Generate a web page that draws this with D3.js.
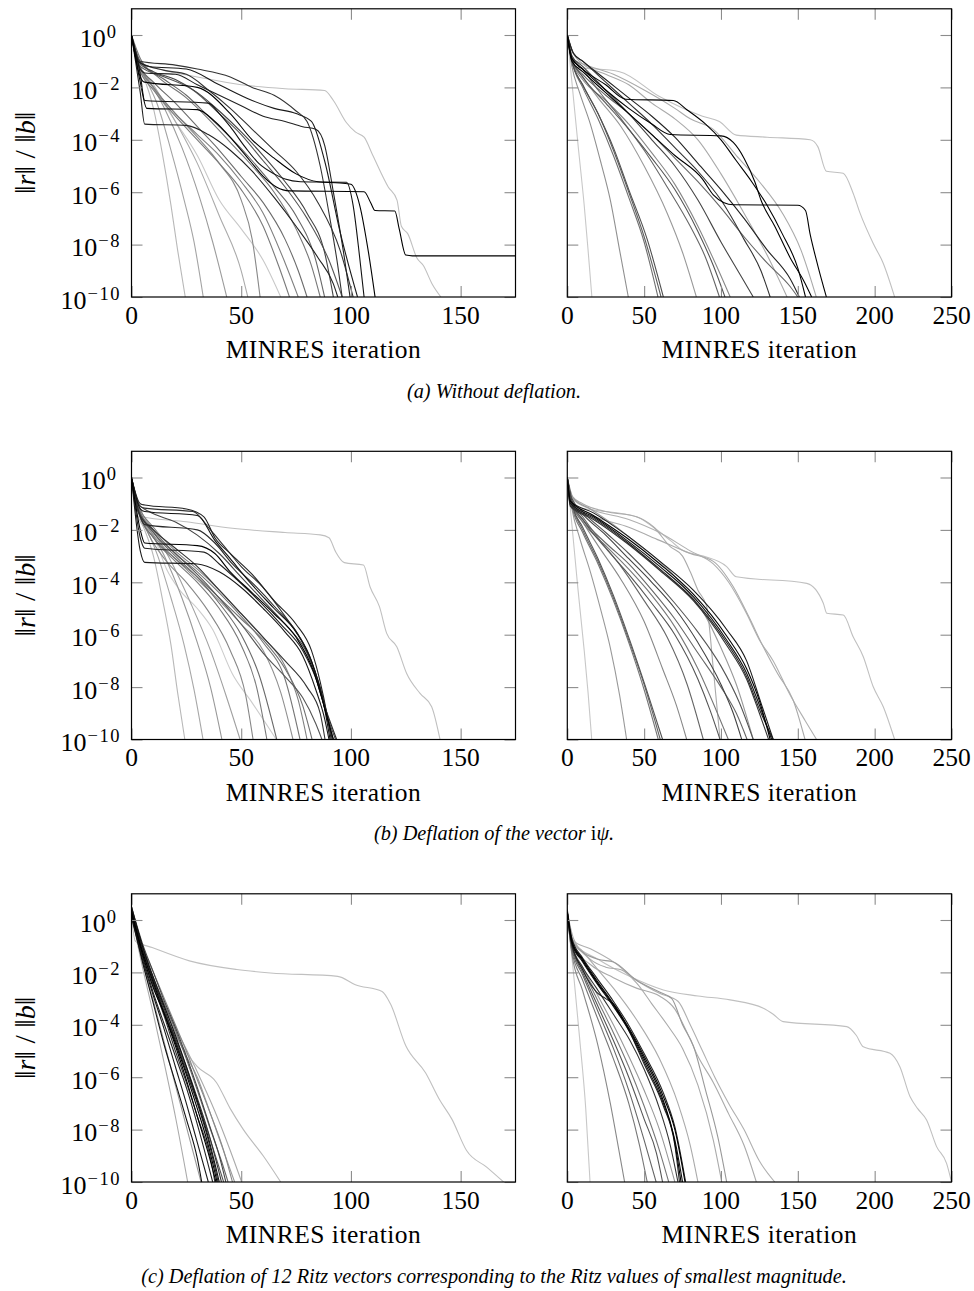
<!DOCTYPE html>
<html><head><meta charset="utf-8">
<script src="https://cdn.jsdelivr.net/npm/d3@7"></script>
<style>
body{margin:0;background:#fff;}
</style></head><body>
<svg id="chart" width="974" height="1291"></svg>
<script>
// ---------- axis / tick data ----------
const xTicksLeft = [0, 50, 100, 150];
const xTicksRight = [0, 50, 100, 150, 200, 250];
const xDomainLeft = [0, 175];
const xDomainRight = [0, 250];
const yTickExponents = [0, -2, -4, -6, -8, -10];
const yDomain = [1e-10, 10];
const xAxisTitle = "MINRES iteration";
const captions = [
  "(a) Without deflation.",
  "(b) Deflation of the vector ",
  "(c) Deflation of 12 Ritz vectors corresponding to the Ritz values of smallest magnitude."
];

// ---------- series: [iteration, log10(||r||/||b||)] ----------
const aLeftSeries = [
  [[0,0],[2,-1.0],[6,-1.7],[10,-2.8],[14,-4.5],[18,-6.5],[21,-8.2],[24.5,-10]],
  [[0,0],[2,-0.9],[6,-1.6],[12,-2.7],[18,-4.4],[24,-6.3],[28.5,-7.9],[32.7,-10]],
  [[0,0],[2,-0.9],[7,-1.6],[15,-2.8],[23,-4.3],[31,-6.2],[37,-7.9],[43.4,-10]],
  [[0,0],[3,-1.0],[10,-1.9],[20,-3.3],[30,-4.9],[40,-6.9],[50,-9.0],[53,-10]],
  [[0,0],[3,-1.0],[10,-2.0],[20,-3.3],[30,-4.6],[40,-6.3],[50,-7.4],[60,-8.6],[68,-10]],
  [[0,0],[3,-1.1],[10,-2.0],[20,-3.0],[30,-3.9],[40,-4.9],[50,-6.3],[55,-7.8],[58.6,-10]],
  [[0,0],[3,-1.2],[10,-2.1],[20,-3.1],[30,-4.0],[40,-4.9],[50,-5.9],[60,-7.3],[67,-8.8],[72,-10]],
  [[0,0],[3,-1.0],[10,-2.0],[20,-3.0],[30,-3.8],[40,-4.6],[50,-5.6],[60,-6.8],[70,-8.7],[76,-10]],
  [[0,0],[3,-1.1],[10,-1.8],[20,-2.6],[30,-3.5],[40,-4.4],[50,-5.4],[60,-6.4],[70,-7.8],[76,-9],[80,-10]],
  [[0,0],[4,-0.9],[12,-1.6],[25,-2.4],[35,-3.2],[45,-4.1],[55,-5.0],[65,-6.0],[75,-7.4],[82,-8.8],[86,-10]],
  [[0,0],[4,-1.0],[15,-1.7],[25,-2.3],[35,-3.1],[45,-3.9],[55,-4.8],[65,-5.8],[75,-6.9],[84,-8.6],[88,-10]],
  [[0,0],[4,-1.0],[20,-1.15],[30,-1.3],[45,-1.6],[55,-2.0],[65,-2.3],[75,-2.9],[80,-3.3],[86,-5.0],[90,-6.8],[94,-8.8],[96,-10]],
  [[0,0],[4,-1.3],[6,-1.45],[20,-1.5],[30,-1.9],[40,-2.3],[50,-2.7],[60,-3.1],[70,-3.3],[78,-3.5],[84,-3.6],[88,-4.2],[92,-6.0],[97,-8.5],[99.6,-10]],
  [[0,0],[4,-1.5],[6,-2.5],[35,-2.6],[40,-3.0],[45,-3.5],[52,-4.3],[58,-4.9],[65,-5.3],[70,-5.5],[77,-5.6],[98,-5.62],[101,-6.5],[104,-8.5],[106,-10]],
  [[0,0],[4,-1.8],[7,-2.8],[30,-2.85],[38,-3.3],[46,-4.0],[54,-4.8],[60,-5.4],[66,-5.8],[72,-5.95],[106,-5.98],[109,-6.4],[111,-6.7],[120,-6.72],[122,-7.4],[125,-8.4],[128,-8.43],[175,-8.43]],
  [[0,0],[4,-2.2],[6,-3.4],[25,-3.45],[35,-3.8],[45,-4.4],[55,-5.2],[65,-6.2],[75,-7.3],[85,-8.5],[92,-9.5],[94,-10]],
  [[0,0],[4,-1.1],[10,-1.4],[20,-1.7],[30,-2.2],[40,-2.9],[50,-3.7],[60,-4.6],[70,-5.6],[80,-6.8],[88,-8.3],[92,-10]],
  [[0,0],[3,-1.0],[15,-1.35],[25,-1.5],[35,-2.1],[45,-2.8],[55,-3.6],[65,-4.4],[75,-5.2],[85,-6.4],[95,-8.2],[101,-10]],
  [[0,0],[4,-1.2],[15,-1.6],[28,-2.1],[40,-3.0],[50,-3.8],[60,-4.8],[70,-5.8],[80,-7.0],[90,-8.6],[96,-10]],
  [[0,0],[3,-1.0],[8,-1.2],[25,-1.3],[40,-1.9],[55,-2.5],[65,-2.8],[75,-3.0],[82,-3.3],[88,-4.8],[95,-7.5],[103,-10]],
  [[0,0],[4,-1.6],[6,-1.8],[30,-2.0],[45,-3.0],[55,-4.0],[65,-4.7],[75,-5.3],[85,-5.6],[95,-5.65],[100,-5.7],[104,-6.5],[108,-8.3],[111,-10]],
  [[0,0],[2,-0.8],[5,-1.1],[15,-1.35],[30,-1.6],[50,-1.9],[70,-2.05],[88,-2.12],[92,-2.5],[98,-3.35],[102,-3.7],[106,-3.9],[110,-4.6],[117,-5.8],[121,-6.3],[123,-7.3],[126,-7.6],[130,-8.5],[133,-8.8],[137,-9.5],[141,-10]]
];
const aLeftShade = ["#b8b8b8","#a4a4a4","#9c9c9c","#ababab","#c8c8c8","#888888","#7a7a7a","#808080","#6c6c6c","#777777","#666666",
  "#333333","#222222","#111111","#000000","#222222","#444444","#333333","#555555","#1a1a1a","#000000","#c0c0c0"];

const aRightSeries = [
  [[0,0],[3,-1.8],[7,-4.2],[11,-6.5],[13.5,-8.2],[16,-10]],
  [[0,0],[3,-1.2],[8,-2.2],[15,-3.4],[22,-4.9],[28,-6.3],[34,-8.2],[39.7,-10]],
  [[0,0],[3,-1.0],[10,-2.0],[20,-3.2],[30,-4.6],[40,-6.2],[50,-7.9],[59,-10]],
  [[0,0],[3,-1.0],[10,-1.9],[20,-3.0],[30,-4.4],[40,-6.0],[50,-7.7],[61,-10]],
  [[0,0],[3,-1.0],[10,-1.9],[20,-3.0],[30,-4.3],[40,-5.9],[52,-7.8],[62.5,-10]],
  [[0,0],[3,-1.0],[10,-1.6],[20,-2.4],[35,-3.5],[50,-5.0],[65,-6.8],[75,-8.3],[84,-10]],
  [[0,0],[3,-0.8],[10,-1.3],[20,-2.1],[35,-3.2],[50,-4.4],[65,-5.8],[80,-7.3],[90,-8.5],[99,-10]],
  [[0,0],[3,-0.9],[10,-1.6],[25,-2.6],[40,-3.6],[55,-4.7],[70,-5.9],[85,-7.5],[95,-8.8],[102.6,-10]],
  [[0,0],[3,-1.0],[10,-1.7],[25,-2.5],[40,-3.4],[55,-4.5],[70,-5.7],[85,-7.3],[97,-8.8],[106,-10]],
  [[0,0],[3,-0.8],[10,-1.2],[25,-2.1],[40,-3.0],[55,-4.0],[70,-5.0],[85,-6.3],[100,-7.9],[113,-9.2],[121,-10]],
  [[0,0],[4,-0.7],[10,-1.0],[25,-1.8],[40,-2.6],[55,-3.4],[70,-4.3],[85,-5.2],[100,-6.3],[115,-7.8],[126,-9.0],[132,-10]],
  [[0,0],[3,-0.6],[10,-1.1],[25,-1.5],[40,-1.9],[55,-2.6],[70,-3.2],[85,-4.0],[100,-5.3],[115,-6.8],[130,-8.4],[143,-10]],
  [[0,0],[4,-0.7],[10,-1.0],[25,-1.7],[40,-2.4],[55,-3.1],[70,-3.9],[85,-4.9],[100,-5.9],[115,-7.0],[130,-8.2],[145,-9.3],[151,-10]],
  [[0,0],[3,-0.9],[10,-1.3],[25,-1.9],[38,-2.45],[69,-2.5],[78,-2.86],[90,-3.4],[100,-4.0],[110,-4.8],[120,-5.6],[130,-6.5],[140,-7.6],[150,-8.9],[155,-10]],
  [[0,0],[3,-0.9],[10,-1.3],[25,-2.1],[40,-2.8],[55,-3.4],[67,-3.8],[100,-3.85],[108,-4.1],[115,-4.7],[122,-5.6],[126,-6.3],[135,-7.3],[145,-8.5],[154,-9.4],[159,-10]],
  [[0,0],[3,-1.0],[10,-1.4],[25,-2.2],[40,-3.0],[55,-3.8],[70,-4.6],[88,-5.5],[95,-6.1],[102,-6.4],[108,-6.48],[150,-6.5],[155,-6.7],[158,-7.6],[163,-8.8],[168.6,-10]],
  [[0,0],[3,-1.0],[10,-1.5],[25,-2.3],[40,-3.0],[55,-3.8],[70,-4.7],[85,-5.6],[100,-6.6],[115,-7.7],[130,-8.7],[145,-9.6],[150,-10]],
  [[0,0],[3,-0.9],[10,-1.1],[30,-1.5],[50,-2.1],[70,-2.8],[80,-3.2],[95,-3.6],[110,-4.6],[125,-5.6],[140,-6.8],[152,-8.2],[162,-10]],
  [[0,0],[2,-0.8],[4,-1.2],[34,-1.4],[60,-2.35],[88,-3.1],[99,-3.3],[110,-3.82],[130,-3.9],[158,-4.0],[163,-4.26],[168.6,-5.2],[179.5,-5.28],[186,-6.04],[190.5,-6.8],[199,-7.95],[205.5,-8.7],[213,-10]]
];
const aRightShade = ["#c8c8c8","#909090","#707070","#606060","#505050","#999999","#666666","#555555","#888888","#444444","#333333","#aaaaaa","#222222",
  "#000000","#000000","#000000","#666666","#aaaaaa","#c0c0c0"];

const bLeftSeries = [
  [[0,0],[2,-1.2],[6,-2.0],[10,-3.0],[14,-4.6],[18,-6.4],[21,-8.2],[24.3,-10]],
  [[0,0],[2,-1.0],[6,-1.8],[12,-3.0],[18,-4.6],[24,-6.4],[28.5,-8.1],[32.6,-10]],
  [[0,0],[2,-1.0],[7,-1.8],[15,-3.0],[23,-4.6],[30,-6.3],[36,-8.0],[41.2,-10]],
  [[0,0],[3,-1.0],[9,-1.9],[18,-3.2],[27,-4.8],[36,-6.6],[43,-8.3],[49.5,-10]],
  [[0,0],[3,-1.1],[10,-2.2],[16,-3.5],[22,-4.3],[30,-5.0],[37,-5.8],[46,-7.5],[55,-8.6],[66,-10]],
  [[0,0],[3,-1.2],[8,-2.2],[15,-3.1],[25,-4.0],[35,-5.1],[45,-6.6],[52,-8.3],[55.4,-10]],
  [[0,0],[3,-1.2],[10,-2.3],[20,-3.2],[30,-4.0],[40,-5.0],[50,-6.4],[57,-8.0],[61.7,-10]],
  [[0,0],[3,-1.1],[10,-2.1],[20,-3.0],[30,-3.8],[40,-4.8],[50,-6.0],[58,-7.5],[66.2,-10]],
  [[0,0],[3,-1.2],[10,-2.2],[20,-3.1],[30,-3.9],[40,-4.7],[50,-5.6],[60,-6.6],[68,-8.2],[73.6,-10]],
  [[0,0],[3,-1.1],[10,-2.0],[20,-2.9],[30,-3.6],[40,-4.4],[50,-5.3],[60,-6.3],[70,-7.7],[76.8,-10]],
  [[0,0],[3,-1.0],[10,-1.9],[20,-2.8],[30,-3.5],[40,-4.3],[50,-5.2],[60,-6.1],[70,-7.2],[76,-8.5],[80,-10]],
  [[0,0],[3,-1.3],[10,-2.3],[20,-3.1],[30,-3.8],[40,-4.6],[50,-5.4],[60,-6.2],[70,-7.3],[78,-8.7],[82.3,-10]],
  [[0,0],[4,-1.0],[6,-1.05],[25,-1.2],[33,-1.5],[38,-2.3],[45,-2.9],[55,-3.7],[65,-4.7],[75,-5.6],[82,-6.6],[86,-7.8],[89,-9],[91,-10]],
  [[0,0],[4,-1.1],[6,-1.17],[28,-1.3],[36,-2.0],[42,-2.6],[50,-3.4],[60,-4.2],[70,-5.3],[78,-6.3],[84,-7.5],[88,-8.8],[92,-10]],
  [[0,0],[4,-1.2],[6,-1.3],[30,-1.45],[38,-2.4],[45,-3.1],[55,-4.1],[65,-5.0],[75,-5.9],[82,-7.0],[87,-8.4],[90.5,-10]],
  [[0,0],[4,-2.0],[6,-2.5],[30,-2.6],[38,-2.9],[45,-3.6],[55,-4.4],[65,-5.2],[75,-6.1],[83,-7.4],[88,-8.8],[92,-10]],
  [[0,0],[4,-2.3],[6,-2.7],[33,-2.85],[40,-3.3],[48,-3.9],[58,-4.7],[68,-5.6],[78,-6.6],[85,-7.9],[89,-9.1],[91.5,-10]],
  [[0,0],[4,-2.8],[6,-3.24],[30,-3.3],[40,-3.6],[50,-4.2],[60,-5.0],[70,-5.9],[78,-6.8],[84,-8.1],[88,-9.2],[90,-10]],
  [[0,0],[3,-1.0],[8,-1.3],[20,-1.7],[30,-2.2],[40,-2.9],[50,-3.8],[60,-4.7],[70,-5.6],[80,-6.7],[86,-8.0],[90,-9.3],[93,-10]],
  [[0,0],[3,-1.3],[10,-2.0],[20,-2.7],[30,-3.4],[40,-4.3],[50,-5.2],[60,-6.1],[70,-7.0],[80,-8.0],[86,-9.0],[88.2,-10]],
  [[0,0],[3,-1.2],[10,-2.1],[20,-2.9],[30,-3.7],[40,-4.6],[50,-5.6],[60,-6.7],[70,-7.6],[78,-8.4],[84,-9.4],[86.8,-10]],
  [[0,0],[4,-1.5],[6,-1.8],[30,-2.0],[38,-2.5],[46,-3.3],[56,-4.1],[66,-5.0],[76,-6.0],[82,-7.0],[86,-8.2],[90,-9.2],[93.5,-10]],
  [[0,0],[2,-1.0],[5,-1.5],[25,-1.69],[46,-1.94],[70,-2.1],[86,-2.19],[90,-2.3],[93,-2.83],[97,-3.25],[105.7,-3.34],[108.7,-4.17],[113,-4.93],[116.3,-5.95],[120.9,-6.46],[125.4,-7.48],[131.5,-8.24],[136.8,-8.75],[140.6,-10]]
];
const bLeftShade = ["#b8b8b8","#a8a8a8","#999999","#a0a0a0","#cccccc","#888888","#7a7a7a","#6a6a6a","#909090","#777777","#808080","#707070",
  "#222222","#333333","#111111","#000000","#222222","#1a1a1a","#444444","#333333","#555555","#2a2a2a","#c0c0c0"];

const bRightSeries = [
  [[0,0],[3,-1.8],[7,-4.3],[11,-6.6],[13.5,-8.2],[15.9,-10]],
  [[0,0],[3,-1.2],[8,-2.3],[15,-3.6],[22,-5.1],[28,-6.5],[34,-8.3],[38.6,-10]],
  [[0,0],[3,-1.1],[10,-2.1],[20,-3.3],[30,-4.7],[40,-6.3],[50,-8.1],[59.2,-10]],
  [[0,0],[3,-1.0],[10,-2.0],[20,-3.2],[30,-4.6],[40,-6.2],[50,-7.9],[60.5,-10]],
  [[0,0],[3,-1.0],[10,-1.9],[20,-3.1],[30,-4.5],[40,-6.1],[51,-8.0],[62,-10]],
  [[0,0],[3,-1.0],[10,-1.7],[20,-2.6],[35,-3.9],[50,-5.5],[62,-7.3],[71,-8.7],[77.7,-10]],
  [[0,0],[3,-0.9],[10,-1.5],[20,-2.3],[35,-3.4],[50,-4.7],[65,-6.1],[78,-7.9],[88.5,-10]],
  [[0,0],[3,-0.9],[10,-1.6],[25,-2.7],[40,-3.7],[55,-4.8],[70,-6.0],[85,-7.7],[93,-8.9],[99.4,-10]],
  [[0,0],[3,-1.0],[10,-1.7],[25,-2.6],[40,-3.5],[55,-4.5],[70,-5.7],[85,-7.3],[97,-8.9],[104.8,-10]],
  [[0,0],[3,-0.9],[10,-1.4],[25,-2.2],[40,-3.1],[55,-4.0],[70,-5.0],[85,-6.3],[100,-7.9],[108,-9.0],[113.5,-10]],
  [[0,0],[3,-0.8],[10,-1.3],[25,-2.1],[40,-2.9],[55,-3.8],[70,-4.8],[85,-5.9],[100,-7.2],[112,-8.6],[121,-10]],
  [[0,0],[2,-0.98],[17,-1.5],[38.6,-2.39],[60.3,-3.4],[82,-4.55],[103.7,-6.2],[116.7,-7.47],[125.4,-8.75],[133,-10]],
  [[0,0],[2,-0.9],[17,-1.45],[38.6,-2.3],[60.3,-3.3],[82,-4.45],[103.7,-6.05],[116.7,-7.3],[125.4,-8.6],[132,-10]],
  [[0,0],[2,-1.05],[17,-1.55],[38.6,-2.45],[60.3,-3.5],[82,-4.65],[103.7,-6.3],[116.7,-7.6],[125.4,-8.9],[134,-10]],
  [[0,0],[2,-1.1],[17,-1.6],[38.6,-2.5],[60.3,-3.55],[82,-4.7],[103.7,-6.4],[116.7,-7.7],[125,-9.0],[131,-10]],
  [[0,0],[2,-0.9],[17,-1.35],[38.6,-2.2],[60.3,-3.2],[82,-4.3],[103.7,-5.8],[116.7,-7.0],[126,-8.6],[134,-10]],
  [[0,0],[3,-0.7],[10,-1.0],[25,-1.3],[45,-1.5],[56,-1.88],[67,-2.64],[75,-3.0],[80,-3.6],[85,-4.3],[90.7,-4.93],[95,-7.3],[99.4,-10]],
  [[0,0],[3,-0.9],[15,-1.4],[40,-1.9],[60,-2.4],[80,-2.9],[95,-3.2],[108,-4.17],[118,-5.3],[127.5,-6.46],[137,-7.5],[147,-8.5],[154.7,-10]],
  [[0,0],[3,-0.8],[15,-1.2],[40,-1.6],[60,-2.1],[80,-2.8],[95,-3.3],[105,-4.0],[116.7,-5.2],[125,-6.2],[134,-7.0],[145,-8.3],[155,-9.3],[162.2,-10]],
  [[0,0],[3,-1.0],[10,-1.6],[25,-2.5],[40,-3.3],[55,-4.3],[70,-5.4],[85,-6.7],[100,-8.0],[110,-9.0],[117,-10]],
  [[0,0],[4,-0.8],[15,-1.2],[30,-1.8],[45,-2.5],[60,-3.2],[75,-4.1],[90,-5.3],[100,-6.5],[110,-7.9],[121,-10]],
  [[0,0],[1.8,-1.1],[17,-1.24],[45,-1.5],[56,-1.9],[67,-2.4],[75.5,-2.8],[88.5,-3.0],[103.7,-3.4],[110,-3.79],[155.8,-4.04],[166.6,-4.8],[168.8,-5.18],[179.6,-5.25],[186,-6.08],[192.6,-6.84],[199,-7.98],[205.6,-8.75],[213,-10]]
];
const bRightShade = ["#c8c8c8","#999999","#777777","#666666","#555555","#888888","#666666","#555555","#777777","#444444","#555555",
  "#111111","#000000","#222222","#333333","#1a1a1a","#aaaaaa","#aaaaaa","#b0b0b0","#666666","#999999","#c0c0c0"];

const cLeftSeries = [
  [[0,0.2],[5,-1.8],[10,-3.6],[15,-5.5],[20,-7.5],[25.6,-10]],
  [[0,0.3],[5,-1.6],[10,-3.1],[15,-4.7],[20,-6.3],[26,-8.2],[31.7,-10]],
  [[0,0.3],[5,-1.5],[10,-2.6],[20,-4.4],[30,-5.6],[38.7,-6.2],[45,-7.2],[51,-8.0],[60,-9.0],[68,-10]],
  [[0,0.4],[5,-1.3],[10,-2.4],[20,-4.1],[30,-5.8],[38,-7.3],[45,-8.8],[50.2,-10]],
  [[0,0.3],[5,-1.3],[10,-2.6],[15,-3.6],[20,-4.7],[25,-5.9],[30,-7.2],[35,-8.6],[39,-10]],
  [[0,0.5],[5,-1.0],[10,-2.2],[15,-3.3],[20,-4.4],[25,-5.6],[30,-6.9],[35,-8.3],[40,-10]],
  [[0,0.2],[5,-1.4],[10,-2.8],[15,-4.0],[20,-5.2],[25,-6.4],[30,-7.8],[37,-10]],
  [[0,0.4],[5,-1.1],[10,-2.3],[15,-3.5],[20,-4.5],[25,-5.6],[30,-6.8],[35,-8.1],[41,-10]],
  [[0,0.3],[5,-1.2],[10,-2.4],[15,-3.6],[20,-4.8],[25,-6.1],[30,-7.5],[35,-8.9],[38.5,-10]],
  [[0,0.1],[5,-1.5],[10,-2.9],[15,-4.2],[20,-5.6],[25,-7.0],[30,-8.5],[35,-10]],
  [[0,0.5],[5,-0.9],[10,-2.0],[15,-3.1],[20,-4.1],[25,-5.2],[30,-6.4],[35,-7.7],[40,-9.0],[43,-10]],
  [[0,0.3],[5,-1.2],[10,-2.5],[15,-3.7],[20,-5.0],[25,-6.2],[30,-7.5],[36,-9.1],[38,-10]],
  [[0,0.4],[5,-1.0],[10,-2.3],[15,-3.4],[20,-4.6],[25,-5.8],[30,-7.0],[35,-8.4],[39.5,-10]],
  [[0,0.2],[5,-1.3],[10,-2.5],[15,-3.6],[20,-4.6],[25,-5.7],[30,-6.9],[36,-8.4],[42,-10]],
  [[0,0.3],[5,-1.1],[10,-2.2],[15,-3.2],[20,-4.2],[25,-5.3],[30,-6.5],[36,-8.0],[41,-9.2],[44,-10]],
  [[0,0.2],[5,-1.6],[10,-3.2],[15,-4.8],[20,-6.2],[25,-7.6],[30,-9.1],[32,-10]],
  [[0,0.5],[5,-1.0],[10,-2.0],[15,-3.0],[20,-4.0],[25,-5.0],[30,-6.1],[36,-7.4],[42,-8.8],[46,-10]],
  [[0,0.4],[5,-1.2],[10,-2.4],[15,-3.3],[20,-4.3],[25,-5.2],[30,-6.0],[36,-7.4],[44,-9.3],[47,-10]],
  [[0,0.2],[1.7,-0.8],[9.4,-1.05],[26.4,-1.56],[48,-1.89],[63.3,-2.02],[94,-2.15],[102,-2.47],[114.2,-2.73],[118,-3.2],[125,-4.8],[134,-5.83],[140.4,-6.86],[146,-7.6],[152.7,-8.8],[162,-9.44],[169.6,-10]]
];
const cLeftShade = ["#aaaaaa","#999999","#bbbbbb","#aaaaaa","#000000","#111111","#222222","#333333","#000000","#1a1a1a","#444444","#333333",
  "#222222","#555555","#666666","#111111","#888888","#999999","#c0c0c0"];

const cRightSeries = [
  [[0,0.3],[4,-2.0],[8,-4.5],[12,-7.2],[14.8,-10]],
  [[0,0.2],[3,-1.3],[10,-2.7],[20,-4.8],[28,-7.0],[33,-8.6],[37.3,-10]],
  [[0,0.2],[3,-1.2],[10,-2.3],[20,-3.8],[30,-5.3],[40,-7.0],[47,-8.6],[52,-10]],
  [[0,0.2],[3,-1.1],[10,-2.1],[20,-3.5],[30,-4.9],[40,-6.5],[50,-8.4],[57.8,-10]],
  [[0,0.2],[3,-1.0],[10,-2.0],[20,-3.3],[30,-4.6],[40,-6.0],[50,-7.6],[58,-8.9],[62,-10]],
  [[0,0.2],[3,-1.0],[10,-1.9],[20,-3.1],[30,-4.3],[40,-5.6],[50,-7.1],[60,-8.8],[66,-10]],
  [[0,0.2],[3,-0.9],[10,-1.8],[20,-2.9],[30,-4.0],[40,-5.2],[50,-6.5],[60,-8.0],[70,-10]],
  [[0,0.3],[3,-0.7],[10,-1.2],[20,-1.9],[30,-2.6],[45,-3.8],[60,-5.3],[72,-7.0],[80,-8.6],[85,-10]],
  [[0,0.3],[3,-0.8],[10,-1.5],[19,-2.29],[30,-3.2],[40.8,-4.2],[50,-5.2],[62.5,-6.74],[70,-8.0],[76.6,-10]],
  [[0,0.2],[3,-0.9],[10,-1.6],[19,-2.4],[30,-3.3],[40.8,-4.3],[50,-5.4],[62.5,-7.0],[70,-8.4],[75,-10]],
  [[0,0.4],[3,-0.7],[10,-1.45],[19,-2.2],[30,-3.1],[40.8,-4.1],[50,-5.1],[62.5,-6.6],[70,-7.9],[77,-10]],
  [[0,0.2],[3,-1.0],[10,-1.8],[19,-2.6],[30,-3.6],[40.8,-4.6],[50,-5.7],[60,-7.2],[67,-8.6],[72,-10]],
  [[0,0.3],[3,-0.85],[10,-1.55],[19,-2.35],[30,-3.25],[40.8,-4.25],[50,-5.3],[62.5,-6.9],[69,-8.2],[74,-10]],
  [[0,0.3],[3,-0.9],[10,-1.9],[19,-2.75],[25,-3.0],[30,-3.2],[40.8,-4.3],[50,-5.5],[62.5,-7.1],[70,-8.6],[73,-10]],
  [[0,0.3],[4,-0.7],[15,-1.5],[25,-1.8],[35,-1.9],[45,-2.4],[55,-3.2],[65,-4.0],[75,-4.9],[85,-6.3],[95,-8.4],[100.5,-10]],
  [[0,0.3],[4,-0.9],[20,-1.5],[30,-1.6],[45,-2.3],[60,-2.75],[68,-3.0],[75,-4.0],[82,-4.8],[90,-6.5],[98,-8.3],[103.7,-10]],
  [[0,0.3],[4,-1.0],[15,-1.7],[30,-2.2],[45,-2.6],[60,-2.9],[70,-3.4],[78,-4.3],[85,-5.2],[95,-6.2],[105,-7.4],[115,-8.6],[123,-10]],
  [[0,0.3],[4,-0.8],[15,-1.1],[30,-1.6],[45,-2.3],[60,-2.8],[72,-3.1],[80,-4.0],[88,-5.0],[96,-6.0],[105,-7.0],[115,-8.0],[125,-9.2],[135,-10]],
  [[0,0],[3.9,-0.83],[20,-1.5],[40.8,-2.16],[62.5,-2.67],[85,-2.9],[105.9,-3.05],[127.6,-3.37],[134,-3.6],[140.5,-3.88],[181.8,-4.07],[188,-4.4],[192.6,-4.84],[210,-5.09],[216.4,-5.6],[223,-6.74],[228,-7.2],[233.8,-7.63],[240.3,-8.65],[246.8,-9.29],[250,-10]]
];
const cRightShade = ["#c8c8c8","#888888","#777777","#666666","#555555","#777777","#999999","#aaaaaa","#000000","#111111","#222222","#333333",
  "#000000","#222222","#aaaaaa","#999999","#aaaaaa","#b0b0b0","#c0c0c0"];

// ---------- layout ----------
const W = 974, H = 1291;
const FONT = "'Liberation Serif','DejaVu Serif','Times New Roman',serif";
const rowTop = [8.8, 451.3, 893.8];
const rowBottom = [297, 739.5, 1182];
const leftRange = [131.5, 515.5];
const rightRange = [567.3, 951.5];
const captionY = [398, 840, 1283];
const captionX = 494;

const panels = [
  {row:0, side:"L", series:aLeftSeries, shade:aLeftShade},
  {row:0, side:"R", series:aRightSeries, shade:aRightShade},
  {row:1, side:"L", series:bLeftSeries, shade:bLeftShade},
  {row:1, side:"R", series:bRightSeries, shade:bRightShade},
  {row:2, side:"L", series:cLeftSeries, shade:cLeftShade},
  {row:2, side:"R", series:cRightSeries, shade:cRightShade}
];

const svg = d3.select("#chart");
svg.append("rect").attr("width", W).attr("height", H).attr("fill", "#fff");

panels.forEach((p, pi) => {
  const isL = p.side === "L";
  const x = d3.scaleLinear().domain(isL ? xDomainLeft : xDomainRight).range(isL ? leftRange : rightRange);
  const y = d3.scaleLog().domain(yDomain).range([rowBottom[p.row], rowTop[p.row]]);
  const g = svg.append("g");
  const [x0, x1] = x.range();
  const y0 = rowTop[p.row], y1 = rowBottom[p.row];

  g.append("clipPath").attr("id", "clip" + pi).append("rect")
    .attr("x", x0).attr("y", y0).attr("width", x1 - x0).attr("height", y1 - y0);

  const line = d3.line().x(d => x(d[0])).y(d => y(Math.pow(10, d[1]))).curve(d3.curveMonotoneX);
  const order = d3.range(p.series.length).sort((a, b) => d3.hsl(p.shade[b]).l - d3.hsl(p.shade[a]).l);
  g.append("g").attr("clip-path", `url(#clip${pi})`)
    .selectAll("path").data(order).join("path")
    .attr("d", i => line(p.series[i]))
    .attr("fill", "none").attr("stroke", i => p.shade[i])
    .attr("stroke-width", 1.1).attr("stroke-linejoin", "round");

  // ticks (inside, mirrored)
  const xt = isL ? xTicksLeft : xTicksRight;
  const yt = yTickExponents.map(e => Math.pow(10, e));
  const tickStyle = sel => { sel.select(".domain").remove(); sel.selectAll("line").attr("stroke", "#8c8c8c").attr("stroke-width", 1.1); sel.selectAll("text").remove(); };
  g.append("g").attr("transform", `translate(0,${y1})`).call(d3.axisBottom(x).tickValues(xt).tickSize(-11).tickFormat("")).call(tickStyle);
  g.append("g").attr("transform", `translate(0,${y0})`).call(d3.axisTop(x).tickValues(xt).tickSize(-11).tickFormat("")).call(tickStyle);
  g.append("g").attr("transform", `translate(${x0},0)`).call(d3.axisLeft(y).tickValues(yt).tickSize(-11).tickFormat("")).call(tickStyle);
  g.append("g").attr("transform", `translate(${x1},0)`).call(d3.axisRight(y).tickValues(yt).tickSize(-11).tickFormat("")).call(tickStyle);

  // frame
  g.append("rect").attr("x", x0).attr("y", y0).attr("width", x1 - x0).attr("height", y1 - y0)
    .attr("fill", "none").attr("stroke", "#000").attr("stroke-width", 1.2);

  // x tick labels
  g.selectAll("text.xl").data(xt).join("text").attr("class", "xl")
    .attr("x", d => x(d)).attr("y", y1 + 26.5).attr("text-anchor", "middle")
    .attr("font-family", FONT).attr("font-size", 25.5).text(d => d);

  // x title
  g.append("text").attr("x", (x0 + x1) / 2).attr("y", y1 + 61).attr("text-anchor", "middle")
    .attr("font-family", FONT).attr("font-size", 25.5).attr("letter-spacing", 0.5).text(xAxisTitle);

  if (isL) {
    yTickExponents.forEach(e => {
      const t = g.append("text").attr("x", e === 0 ? 116 : 121).attr("y", y(Math.pow(10, e)) + 11.5)
        .attr("text-anchor", "end").attr("font-family", FONT).attr("font-size", 26);
      t.append("tspan").text("10");
      t.append("tspan").attr("font-size", 18.5).attr("dy", -9).attr("dx", 1)
        .attr("letter-spacing", e === 0 ? 0 : 1.5).text(e === 0 ? "0" : "\u2212" + Math.abs(e));
    });
    const mid = (y0 + y1) / 2;
    const lab = g.append("text").attr("transform", `translate(35,${mid}) rotate(-90)`)
      .attr("text-anchor", "middle").attr("font-family", FONT).attr("font-size", 28);
    lab.append("tspan").attr("font-size", 30).text("\u2016");
    lab.append("tspan").attr("font-style", "italic").text("r");
    lab.append("tspan").attr("font-size", 30).text("\u2016 / \u2016");
    lab.append("tspan").attr("font-style", "italic").text("b");
    lab.append("tspan").attr("font-size", 30).text("\u2016");
  }
});

// captions
captions.forEach((c, i) => {
  const t = svg.append("text").attr("x", captionX).attr("y", captionY[i]).attr("text-anchor", "middle")
    .attr("font-family", FONT).attr("font-size", 20.3).attr("font-style", "italic");
  t.append("tspan").text(c);
  if (i === 1) {
    t.append("tspan").attr("font-style", "normal").text("i");
    t.append("tspan").text("\u03C8.");
  }
});
</script></body></html>
